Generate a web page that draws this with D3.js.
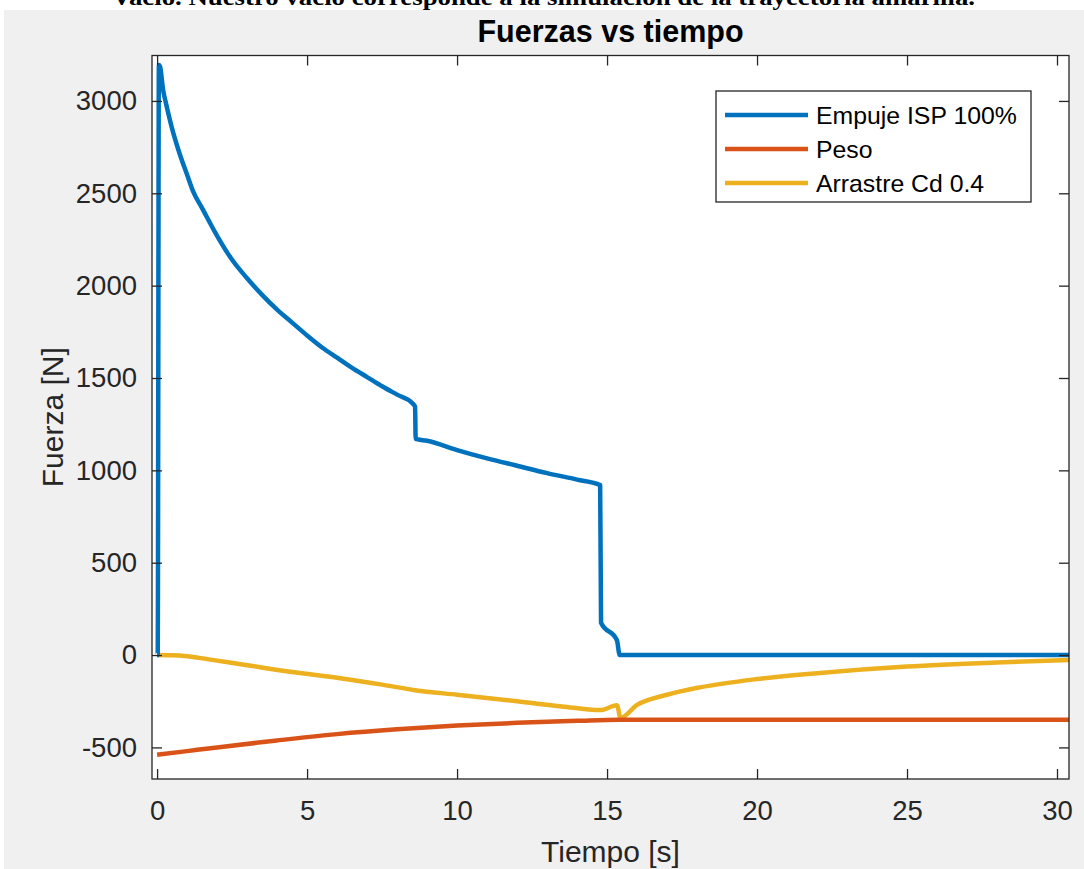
<!DOCTYPE html>
<html>
<head>
<meta charset="utf-8">
<script src="https://cdn.jsdelivr.net/npm/d3@7"></script>
<style>
  html, body { margin: 0; padding: 0; background: #ffffff; }
  svg { display: block; }
</style>
</head>
<body>
<svg id="chart" width="1084" height="869"></svg>
<script>
// ---- data ----
const tEmpuje = [0, 0.02, 0.06, 0.1, 0.2, 0.3, 0.5, 0.7, 1, 1.2, 1.5, 2, 2.5, 3, 3.5, 4, 4.5, 5, 5.5, 6, 6.5, 7, 7.5, 8, 8.5, 8.6, 8.62, 9, 10, 11, 12, 13, 14, 14.77, 14.8, 15.33, 15.42, 16, 20, 25, 30.4];
const empuje  = [0, 0, 3195, 3185, 3060, 2985, 2850, 2740, 2600, 2510, 2420, 2270, 2140, 2040, 1950, 1870, 1800, 1730, 1665, 1610, 1555, 1505, 1455, 1410, 1365, 1345, 1170, 1160, 1110, 1065, 1025, 985, 950, 920, 175, 80, 0, 0, 0, 0, 0];

const tPeso = [0, 1, 2, 4, 6, 8, 10, 12, 14, 15.4, 20, 25, 30.4];
const peso  = [-540, -520, -500, -462, -428, -402, -382, -367, -356, -350, -350, -350, -350];

const tArrastre = [0, 0.5, 1, 1.67, 3, 4.5, 6.1, 7.5, 8.6, 10, 12, 13.5, 14.77, 15.33, 15.45, 16, 17, 18.1, 20, 22, 25, 28, 30.4];
const arrastre  = [0, -1, -6, -22, -55, -92, -125, -160, -190, -215, -250, -278, -298, -272, -340, -270, -215, -175, -130, -98, -62, -40, -27];

const series = [
  { name: "Empuje ISP 100%", t: tEmpuje, v: empuje, color: "#0072BD" },
  { name: "Peso", t: tPeso, v: peso, color: "#D95319" },
  { name: "Arrastre Cd 0.4", t: tArrastre, v: arrastre, color: "#EDB120" }
];

const xTicks = [0, 5, 10, 15, 20, 25, 30];
const yTicks = [-500, 0, 500, 1000, 1500, 2000, 2500, 3000];

const titulo = "Fuerzas vs tiempo";
const etiquetaX = "Tiempo [s]";
const etiquetaY = "Fuerza [N]";
const textoSuperior = "Vacío. Nuestro vacío corresponde a la simulación de la trayectoria amarilla.";

// ---- layout ----
const svg = d3.select("#chart");
const ink = "#262626";
const box = { left: 152, top: 55.5, right: 1069, bottom: 779 };

// caption line above the figure (cut by the figure frame)
svg.append("text")
  .attr("x", 112).attr("y", 5)
  .attr("font-family", "'Liberation Serif', 'Times New Roman', serif")
  .attr("font-weight", "bold")
  .attr("font-size", 24)
  .attr("textLength", 863)
  .attr("lengthAdjust", "spacingAndGlyphs")
  .attr("fill", "#000")
  .text(textoSuperior);

// figure background
svg.append("rect")
  .attr("x", 4).attr("y", 10)
  .attr("width", 1080).attr("height", 859)
  .attr("fill", "#f0f0f0");

const x = d3.scaleLinear().domain([-0.17, 30.4]).range([box.left, box.right]);
const y = d3.scaleLinear().domain([-671, 3246]).range([box.bottom, box.top]);

// plot area
svg.append("rect")
  .attr("x", box.left).attr("y", box.top)
  .attr("width", box.right - box.left).attr("height", box.bottom - box.top)
  .attr("fill", "#ffffff");

svg.append("clipPath").attr("id", "plotclip")
  .append("rect")
  .attr("x", box.left).attr("y", box.top)
  .attr("width", box.right - box.left).attr("height", box.bottom - box.top);

const font = "'Liberation Sans', Arial, Helvetica, sans-serif";

// series
const line = d3.line().curve(d3.curveMonotoneX).x(d => x(d[0])).y(d => y(d[1]));
const plot = svg.append("g").attr("clip-path", "url(#plotclip)");
series.slice().reverse().forEach(s => {
  plot.append("path")
    .datum(s.t.map((t, i) => [t, s.v[i]]))
    .attr("d", line)
    .attr("fill", "none")
    .attr("stroke", s.color)
    .attr("stroke-width", 4.5)
    .attr("stroke-linejoin", "round");
});

// axes (ticks pointing inward, mirrored on top and right)
const tickLen = 10;
const styleAxis = g => {
  g.select(".domain").remove();
  g.selectAll(".tick line").attr("stroke", ink).attr("stroke-width", 1.3);
  g.selectAll(".tick text").attr("fill", ink).attr("font-family", font).attr("font-size", 27.5);
};
const plain = d => String(d);

svg.append("g")
  .attr("transform", `translate(0,${box.bottom})`)
  .call(d3.axisBottom(x).tickValues(xTicks).tickFormat(plain).tickSizeInner(-tickLen).tickSizeOuter(0).tickPadding(21))
  .call(styleAxis);

svg.append("g")
  .attr("transform", `translate(0,${box.top})`)
  .call(d3.axisTop(x).tickValues(xTicks).tickFormat("").tickSizeInner(-tickLen).tickSizeOuter(0))
  .call(styleAxis);

svg.append("g")
  .attr("transform", `translate(${box.left},0)`)
  .call(d3.axisLeft(y).tickValues(yTicks).tickFormat(plain).tickSizeInner(-tickLen).tickSizeOuter(0).tickPadding(15))
  .call(styleAxis);

svg.append("g")
  .attr("transform", `translate(${box.right},0)`)
  .call(d3.axisRight(y).tickValues(yTicks).tickFormat("").tickSizeInner(-tickLen).tickSizeOuter(0))
  .call(styleAxis);

// axes box
svg.append("rect")
  .attr("x", box.left).attr("y", box.top)
  .attr("width", box.right - box.left).attr("height", box.bottom - box.top)
  .attr("fill", "none").attr("stroke", ink).attr("stroke-width", 1.3);

// title and labels
const cx = (box.left + box.right) / 2;
svg.append("text")
  .attr("x", cx).attr("y", 42)
  .attr("text-anchor", "middle")
  .attr("font-family", font).attr("font-weight", "bold").attr("font-size", 30.5)
  .attr("fill", "#000")
  .text(titulo);

svg.append("text")
  .attr("x", cx).attr("y", 862)
  .attr("text-anchor", "middle")
  .attr("font-family", font).attr("font-size", 30)
  .attr("fill", ink)
  .text(etiquetaX);

svg.append("text")
  .attr("transform", `translate(63,${(box.top + box.bottom) / 2}) rotate(-90)`)
  .attr("text-anchor", "middle")
  .attr("font-family", font).attr("font-size", 30)
  .attr("fill", ink)
  .text(etiquetaY);

// legend
const lg = { x: 716, y: 91, w: 315, h: 111, row0: 115, step: 34 };
const legend = svg.append("g");
legend.append("rect")
  .attr("x", lg.x).attr("y", lg.y).attr("width", lg.w).attr("height", lg.h)
  .attr("fill", "#ffffff").attr("stroke", ink).attr("stroke-width", 1.3);
series.forEach((s, i) => {
  const ry = lg.row0 + i * lg.step;
  legend.append("line")
    .attr("x1", 725).attr("x2", 808).attr("y1", ry).attr("y2", ry)
    .attr("stroke", s.color).attr("stroke-width", 4.5);
  legend.append("text")
    .attr("x", 816).attr("y", ry + 9)
    .attr("font-family", font).attr("font-size", 24.8)
    .attr("fill", "#000")
    .text(s.name);
});
</script>
</body>
</html>
